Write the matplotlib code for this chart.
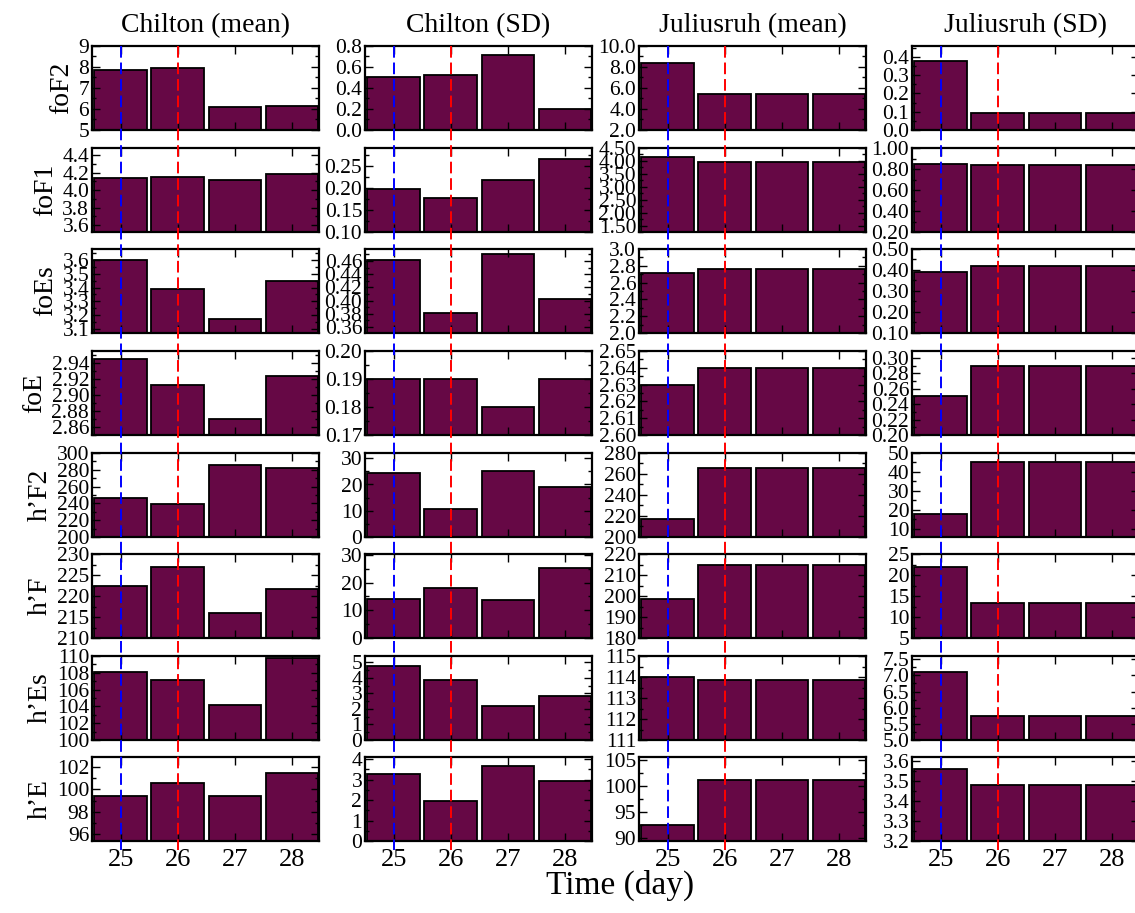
import numpy as np
import matplotlib
matplotlib.use("Agg")
import matplotlib.pyplot as plt
from matplotlib.lines import Line2D
from matplotlib.ticker import MultipleLocator, AutoMinorLocator, FormatStrFormatter
from matplotlib.transforms import blended_transform_factory

plt.rcParams['font.family'] = ['Liberation Serif', 'DejaVu Serif']
plt.rcParams['axes.linewidth'] = 1.6

days = [25, 26, 27, 28]
params = ["foF2", "foF1", "foEs", "foE", "h\u2019F2", "h\u2019F", "h\u2019Es", "h\u2019E"]
columns = ["Chilton (mean)", "Chilton (SD)", "Juliusruh (mean)", "Juliusruh (SD)"]

chilton_mean = [
    [7.85, 7.97, 6.10, 6.15],
    [4.14, 4.15, 4.12, 4.18],
    [3.60, 3.39, 3.17, 3.45],
    [2.945, 2.913, 2.870, 2.924],
    [246.0, 239.5, 286.0, 282.6],
    [222.3, 227.0, 215.9, 221.7],
    [108.1, 107.1, 104.2, 109.8],
    [99.4, 100.6, 99.4, 101.5],
]
chilton_sd = [
    [0.50, 0.52, 0.71, 0.20],
    [0.198, 0.178, 0.217, 0.266],
    [0.461, 0.381, 0.471, 0.403],
    [0.19, 0.19, 0.18, 0.19],
    [24.2, 10.8, 25.2, 19.1],
    [14.2, 18.1, 13.7, 25.2],
    [4.77, 3.86, 2.20, 2.80],
    [3.25, 1.95, 3.65, 2.95],
]
juliusruh_mean = [
    [8.39, 5.39, 5.39, 5.39],
    [4.16, 3.95, 3.95, 3.95],
    [2.71, 2.76, 2.76, 2.76],
    [2.63, 2.64, 2.64, 2.64],
    [217.3, 265.6, 265.6, 265.6],
    [198.6, 214.8, 214.8, 214.8],
    [114.0, 113.86, 113.86, 113.86],
    [92.5, 101.1, 101.1, 101.1],
]
juliusruh_sd = [
    [0.38, 0.091, 0.091, 0.091],
    [0.847, 0.84, 0.84, 0.84],
    [0.392, 0.421, 0.421, 0.421],
    [0.25, 0.289, 0.289, 0.289],
    [17.6, 45.0, 45.0, 45.0],
    [22.0, 13.3, 13.3, 13.3],
    [7.11, 5.74, 5.74, 5.74],
    [3.56, 3.48, 3.48, 3.48],
]
all_data = [chilton_mean, chilton_sd, juliusruh_mean, juliusruh_sd]

# y range, major step, label format for each panel (row, column)
ylims = [
    [(5, 9), (0, 0.8), (2, 10), (0, 0.46)],
    [(3.52, 4.48), (0.10, 0.29), (1.25, 4.5), (0.2, 1.0)],
    [(3.07, 3.68), (0.351, 0.478), (2.0, 3.0), (0.1, 0.5)],
    [(2.85, 2.955), (0.17, 0.20), (2.60, 2.65), (0.2, 0.309)],
    [(200, 300), (0, 32), (200, 280), (5.5, 50)],
    [(210, 230), (0, 30.3), (180, 220), (5, 25)],
    [(100, 110), (0, 5.4), (111, 115), (5.0, 7.6)],
    [(95.4, 102.9), (0, 4.1), (89.5, 105.5), (3.2, 3.62)],
]
ysteps = [
    [1, 0.2, 2, 0.1],
    [0.2, 0.05, 0.5, 0.2],
    [0.1, 0.02, 0.2, 0.1],
    [0.02, 0.01, 0.01, 0.02],
    [20, 10, 20, 10],
    [5, 10, 10, 5],
    [2, 1, 1, 0.5],
    [2, 1, 5, 0.1],
]
yfmts = [
    ["%d", "%.1f", "%.1f", "%.1f"],
    ["%.1f", "%.2f", "%.2f", "%.2f"],
    ["%.1f", "%.2f", "%.1f", "%.2f"],
    ["%.2f", "%.2f", "%.2f", "%.2f"],
    ["%d", "%d", "%d", "%d"],
    ["%d", "%d", "%d", "%d"],
    ["%d", "%d", "%d", "%.1f"],
    ["%d", "%d", "%d", "%.1f"],
]

W, H = 1135, 913
fig = plt.figure(figsize=(W / 100, H / 100), dpi=100)

col_left = [92, 365, 639, 912]
row_top = [46, 148, 249, 351, 453, 554, 656, 757]
ax_w, ax_h = 227, 84
bar_color = "#660845"

axes = []
for r in range(len(params)):
    row_axes = []
    for c in range(len(columns)):
        ax = fig.add_axes([col_left[c] / W, 1 - (row_top[r] + ax_h) / H, ax_w / W, ax_h / H])
        ax.bar(days, all_data[c][r], width=0.92, color=bar_color,
               edgecolor="black", linewidth=1.3)
        ax.set_xlim(24.5, 28.47)
        ax.set_ylim(*ylims[r][c])
        ax.set_xticks(days)
        ax.yaxis.set_major_locator(MultipleLocator(ysteps[r][c]))
        ax.yaxis.set_minor_locator(AutoMinorLocator(2))
        ax.yaxis.set_major_formatter(FormatStrFormatter(yfmts[r][c]))
        ax.tick_params(which="both", direction="in", top=True, right=True, labelsize=15.5, pad=2)
        ax.tick_params(which="major", length=6, width=1)
        ax.tick_params(which="minor", length=3, width=1)
        ax.tick_params(axis="x", labelsize=19, pad=6)
        if r < len(params) - 1:
            ax.tick_params(axis="x", labelbottom=False)
        if c == 0:
            ax.set_ylabel(params[r], fontsize=20, labelpad=3)
        if r == 0:
            ax.set_title(columns[c], fontsize=20, pad=10)
        row_axes.append(ax)
    axes.append(row_axes)

# dashed day markers running through every row of each column, drawn above the axes
y_top = 1 - 46 / H
y_bot = 1 - 850 / H
for c in range(len(columns)):
    ax = axes[0][c]
    trans = blended_transform_factory(ax.transData, fig.transFigure)
    for day, colour in [(25, "blue"), (26, "red")]:
        line = Line2D([day, day], [y_top, y_bot], transform=trans, color=colour,
                      ls=(0, (6, 2.5)), lw=1.4, zorder=10)
        fig.add_artist(line)

fig.text(620 / W, 1 - 885 / H, "Time (day)", ha="center", va="center", fontsize=24)

fig.savefig("out.png", dpi=100)
